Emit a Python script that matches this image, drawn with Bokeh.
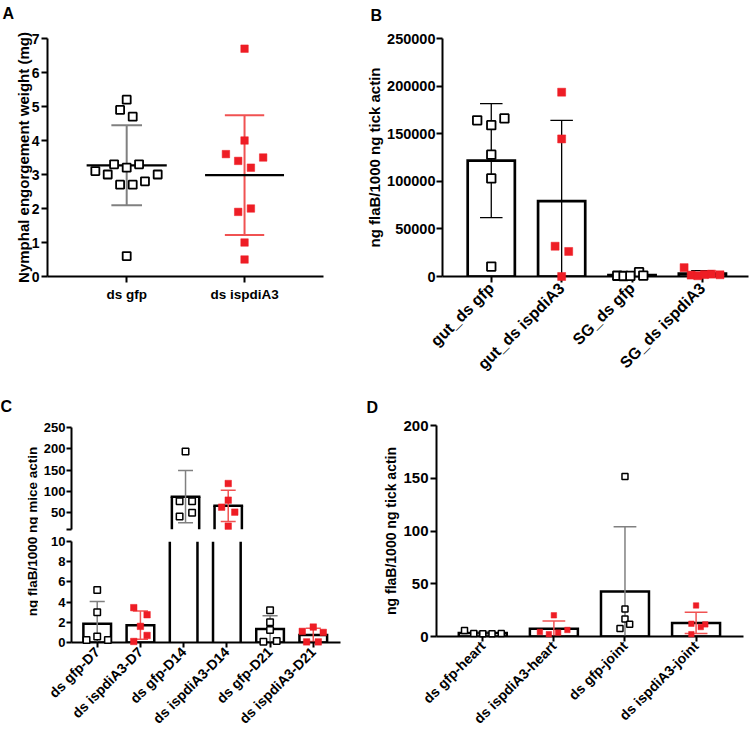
import numpy as np
from math import pi
from bokeh.plotting import figure
from bokeh.models import Range1d, FixedTicker, Label, BasicTickFormatter
from bokeh.layouts import row, column
from bokeh.embed import file_html
from bokeh.resources import INLINE
from bokeh.core.properties import value

FONT = "Liberation Sans"
RED = "#ee1d25"
RED_ERR = "#f05252"
GRAY_ERR = "#808080"

# ---------------- data ----------------
# Panel A : nymphal engorgement weight (mg)
a_groups = ["ds gfp", "ds ispdiA3"]
a_gfp = [5.2, 4.9, 4.7, 3.3, 3.2, 3.3, 3.1, 3.0, 2.7, 2.7, 2.8, 3.0, 0.6]
a_ispd = [6.7, 4.0, 3.6, 3.4, 3.5, 3.2, 2.0, 1.9, 1.0, 0.5]
a_yticks = [0, 1, 2, 3, 4, 5, 6, 7]

# Panel B : ng flaB / 1000 ng tick actin
b_groups = ["gut_ds gfp", "gut_ds ispdiA3", "SG_ds gfp", "SG_ds ispdiA3"]
b_gut_gfp = [164000, 159000, 166000, 128000, 103000, 10400]
b_gut_ispd = [193600, 144500, 31800, 26300, 0]
b_sg_gfp = [800, 500, 700, 4500, 1000]
b_sg_ispd = [9300, 1500, 800, 2000, 2500, 1800]
b_yticks = [0, 50000, 100000, 150000, 200000, 250000]

# Panel C : ng flaB / 1000 ng mice actin
c_groups = ["ds gfp-D7", "ds ispdiA3-D7", "ds gfp-D14",
            "ds ispdiA3-D14", "ds gfp-D21", "ds ispdiA3-D21"]
c_gfp_d7 = [5.2, 3.0, 0.6, 0.25, 0.25]
c_ispd_d7 = [3.45, 2.75, 1.6, 0.7, 0.1]
c_gfp_d14 = [193.5, 76.7, 76.7, 49.2, 40.6]
c_ispd_d14 = [118.2, 79.0, 62.5, 50.8, 17.9]
c_gfp_d21 = [3.2, 2.0, 1.25, 0.07, 0.16]
c_ispd_d21 = [1.53, 1.1, 1.0, 0.06, 0.06]
c_upper_ticks = [10, 50, 100, 150, 200, 250]
c_lower_ticks = [0, 2, 4, 6, 8, 10]

# Panel D : ng flaB / 1000 ng tick actin
d_groups = ["ds gfp-heart", "ds ispdiA3-heart", "ds gfp-joint", "ds ispdiA3-joint"]
d_gfp_heart = [5.8, 2.8, 2.6, 2.7, 2.8]
d_ispd_heart = [20.1, 6.2, 4.3, 3.7, 2.2]
d_gfp_joint = [151.7, 26.0, 16.7, 11.5, 7.7]
d_ispd_joint = [29.4, 12.1, 11.5, 9.0, 2.2]
d_yticks = [0, 50, 100, 150, 200]

# horizontal scatter offsets of the points (layout only)
a_gfp_jit = [0, -0.056, 0.051, -0.107, 0, 0.105, -0.266, -0.161, -0.056, 0.051, 0.155, 0.263, 0]
a_ispd_jit = [0, 0, -0.158, -0.054, 0.158, 0.054, 0.054, -0.054, 0, 0]
b_gut_gfp_jit = [-0.2, 0, 0.187, 0, 0, 0]
b_gut_ispd_jit = [0, 0, -0.093, 0.1, 0]
b_sg_gfp_jit = [-0.21, -0.12, -0.024, 0.10, 0.16]
b_sg_ispd_jit = [-0.26, -0.16, -0.066, 0.03, 0.13, 0.25]
c_gfp_d7_jit = [0, 0, 0, -0.247, 0.247]
c_ispd_d7_jit = [-0.154, 0.154, 0, 0.154, -0.154]
c_gfp_d14_jit = [0, -0.139, 0.154, 0.154, -0.139]
c_ispd_d14_jit = [0, 0, -0.154, 0.154, 0]
c_gfp_d21_jit = [0, 0, 0, -0.154, 0.154]
c_ispd_d21_jit = [0, -0.255, 0.231, -0.154, 0.116]
d_gfp_heart_jit = [-0.257, -0.127, 0, 0.13, 0.26]
d_ispd_heart_jit = [0, 0.19, -0.197, 0.06, -0.07]
d_gfp_joint_jit = [0, 0, 0, 0.066, -0.07]
d_ispd_joint_jit = [0, -0.066, 0.13, 0.066, -0.066]


# ---------------- helpers ----------------
def make_fig(width, height, xr, yr, left, right, top, bottom):
    p = figure(width=width, height=height, x_range=Range1d(*xr), y_range=Range1d(*yr),
               output_backend="svg", toolbar_location=None, tools="",
               min_border_left=left, min_border_right=right,
               min_border_top=top, min_border_bottom=bottom)
    p.outline_line_color = None
    p.grid.visible = False
    p.background_fill_color = "white"
    p.border_fill_color = "white"
    return p


def style_axis(ax, size, tick_out=6, standoff=2):
    ax.axis_line_width = 2
    ax.axis_line_color = "black"
    ax.major_tick_line_width = 2
    ax.major_tick_line_color = "black"
    ax.major_tick_out = tick_out
    ax.major_tick_in = 0
    ax.minor_tick_line_color = None
    ax.major_label_text_font = FONT
    ax.major_label_text_font_size = f"{size}px"
    ax.major_label_text_font_style = "bold"
    ax.major_label_text_color = "black"
    ax.major_label_standoff = standoff
    ax.axis_label_text_font = FONT
    ax.axis_label_text_font_style = "bold"
    ax.axis_label_text_color = "black"


def x_cats(ax, groups, rotate=False):
    ax.ticker = FixedTicker(ticks=list(range(1, len(groups) + 1)))
    ax.major_label_overrides = {i + 1: g for i, g in enumerate(groups)}
    if rotate:
        ax.major_label_orientation = pi / 4


def panel_letter(p, text, x, y):
    p.text(x=[x], y=[y], text=[text], text_font=value(FONT), text_font_size="16px",
           text_font_style="bold", text_color="black", text_align="left",
           text_baseline="top", level="overlay")


def draw_group(p, x, vals, jit, kind, size, bar_w=None, cap=0.16, err_w=1.5,
               err_col=None, bar_lw=2.5, mean_half=None, line_w=1.6,
               ylo=0.0, yhi=1e12):
    v = np.asarray(vals, dtype=float)
    m = v.mean()
    sd = v.std(ddof=1)
    if err_col is None:
        err_col = GRAY_ERR if kind == "open" else RED_ERR
    # bar (clipped by hand to the panel's value window)
    if bar_w and m > ylo:
        hx = bar_w / 2
        if ylo <= 0 and m <= yhi:
            p.vbar(x=[x], top=[m], bottom=0, width=bar_w, fill_color="white",
                   line_color="black", line_width=bar_lw, line_join="miter")
        else:
            top = min(m, yhi)
            p.vbar(x=[x], top=[top], bottom=ylo, width=bar_w, fill_color="white",
                   line_color=None)
            p.segment(x0=[x - hx, x + hx], y0=[ylo, ylo], x1=[x - hx, x + hx],
                      y1=[top, top], line_color="black", line_width=bar_lw)
            if m <= yhi:
                p.segment(x0=[x - hx], y0=[m], x1=[x + hx], y1=[m], line_color="black",
                          line_width=bar_lw, line_cap="square")
    # error bar (mean +/- SD)
    lo = m - sd
    hi = m + sd
    if hi > ylo and lo < yhi:
        p.segment(x0=[x], y0=[max(lo, ylo, 0)], x1=[x], y1=[min(hi, yhi)],
                  line_color=err_col, line_width=err_w)
    cy = [y for y in (hi, lo) if y > 0 and ylo <= y <= yhi]
    if cy:
        p.segment(x0=[x - cap] * len(cy), y0=cy, x1=[x + cap] * len(cy), y1=cy,
                  line_color=err_col, line_width=err_w)
    if mean_half:
        p.segment(x0=[x - mean_half], y0=[m], x1=[x + mean_half], y1=[m],
                  line_color="black", line_width=2.2)
    xs = x + np.asarray(jit, dtype=float)
    keep = (v >= ylo) & (v <= yhi)
    if not keep.any():
        return
    if kind == "open":
        p.scatter(x=xs[keep], y=v[keep], marker="square", size=size, fill_color="white",
                  line_color="black", line_width=line_w, level="overlay")
    else:
        p.scatter(x=xs[keep], y=v[keep], marker="square", size=size, fill_color=RED,
                  line_color=RED, line_width=0.5, level="overlay")


# ---------------- Panel A ----------------
pA = make_fig(363, 385, (0.328, 2.67), (0, 7), 47, 40, 38, 104)
style_axis(pA.xaxis[0], 13.5, tick_out=6, standoff=4)
style_axis(pA.yaxis[0], 14, tick_out=6, standoff=2)
x_cats(pA.xaxis[0], a_groups)
pA.yaxis[0].ticker = FixedTicker(ticks=a_yticks)
pA.yaxis[0].bounds = (0, 7)
pA.yaxis[0].axis_label = "Nymphal engorgement weight (mg)"
pA.yaxis[0].axis_label_text_font_size = "15px"
pA.yaxis[0].axis_label_standoff = -3
draw_group(pA, 1, a_gfp, a_gfp_jit, "open", 8, cap=0.13, err_w=2, mean_half=0.34, line_w=1.8)
draw_group(pA, 2, a_ispd, a_ispd_jit, "red", 7.5, cap=0.167, err_w=2, mean_half=0.335)
panel_letter(pA, "A", -0.054, 8.0)

# ---------------- Panel B ----------------
pB = make_fig(387, 385, (0.307, 4.655), (0, 250000), 75, 2, 35, 109)
style_axis(pB.xaxis[0], 16, tick_out=6, standoff=3)
style_axis(pB.yaxis[0], 14.5, tick_out=6, standoff=1)
x_cats(pB.xaxis[0], b_groups, rotate=True)
pB.yaxis[0].ticker = FixedTicker(ticks=b_yticks)
pB.yaxis[0].formatter = BasicTickFormatter(use_scientific=False)
pB.yaxis[0].axis_label = "ng flaB/1000 ng tick actin"
pB.yaxis[0].axis_label_text_font_size = "15px"
pB.yaxis[0].axis_label_standoff = 1
for i, (vals, jit, kind) in enumerate([(b_gut_gfp, b_gut_gfp_jit, "open"),
                                       (b_gut_ispd, b_gut_ispd_jit, "red"),
                                       (b_sg_gfp, b_sg_gfp_jit, "open"),
                                       (b_sg_ispd, b_sg_ispd_jit, "red")]):
    draw_group(pB, i + 1, vals, jit, kind, 8.5 if kind == "open" else 8, bar_w=0.67,
               cap=0.16, err_w=1.3, err_col="black", bar_lw=2.7, line_w=1.8,
               ylo=-1e12)
panel_letter(pB, "B", -0.717, 283000)

# ---------------- Panel C ----------------
c_sets = [(c_gfp_d7, c_gfp_d7_jit, "open"), (c_ispd_d7, c_ispd_d7_jit, "red"),
          (c_gfp_d14, c_gfp_d14_jit, "open"), (c_ispd_d14, c_ispd_d14_jit, "red"),
          (c_gfp_d21, c_gfp_d21_jit, "open"), (c_ispd_d21, c_ispd_d21_jit, "red")]

pCt = figure(width=38, height=350, x_range=Range1d(0, 38), y_range=Range1d(0, 350),
             output_backend="svg", toolbar_location=None, tools="",
             x_axis_type=None, y_axis_type=None, min_border=0)
pCt.outline_line_color = None
pCt.grid.visible = False
pCt.add_layout(Label(x=31.5, y=204, text="ng flaB/1000 ng mice actin", angle=pi / 2,
                     text_font=FONT, text_font_size="13.5px", text_font_style="bold",
                     text_color="black", text_align="center", text_baseline="middle"))
pCt.add_layout(Label(x=0, y=338, text="C", text_font=FONT, text_font_size="16px",
                     text_font_style="bold", text_color="black",
                     text_align="left", text_baseline="top"))

pCu = make_fig(325, 149, (0.329, 6.63), (10, 250), 30, 23, 42, 5)
pCu.xaxis.visible = False
style_axis(pCu.yaxis[0], 13, tick_out=5, standoff=1)
pCu.yaxis[0].ticker = FixedTicker(ticks=c_upper_ticks)
pCu.yaxis[0].major_label_overrides = {10: ""}

pCl = make_fig(325, 201, (0.405, 6.63), (0, 10), 33, 23, 7, 91)
style_axis(pCl.xaxis[0], 14, tick_out=5, standoff=2)
style_axis(pCl.yaxis[0], 13, tick_out=5, standoff=1)
x_cats(pCl.xaxis[0], c_groups, rotate=True)
pCl.yaxis[0].ticker = FixedTicker(ticks=c_lower_ticks)

for i, (vals, jit, kind) in enumerate(c_sets):
    draw_group(pCu, i + 1, vals, jit, kind, 6.5, bar_w=0.64, cap=0.175,
               err_w=1.5, bar_lw=2.5, line_w=1.5, ylo=10, yhi=250)
    draw_group(pCl, i + 1, vals, jit, kind, 6.5, bar_w=0.64, cap=0.175,
               err_w=1.5, bar_lw=2.5, line_w=1.5, ylo=0, yhi=10)

# ---------------- Panel D ----------------
pD = make_fig(387, 350, (0.349, 4.667), (0, 200), 73, 7, 40, 97)
style_axis(pD.xaxis[0], 14, tick_out=5, standoff=2)
style_axis(pD.yaxis[0], 15, tick_out=6, standoff=2)
x_cats(pD.xaxis[0], d_groups, rotate=True)
pD.yaxis[0].ticker = FixedTicker(ticks=d_yticks)
pD.yaxis[0].axis_label = "ng flaB/1000 ng tick actin"
pD.yaxis[0].axis_label_text_font_size = "14px"
pD.yaxis[0].axis_label_standoff = 1
for i, (vals, jit, kind) in enumerate([(d_gfp_heart, d_gfp_heart_jit, "open"),
                                       (d_ispd_heart, d_ispd_heart_jit, "red"),
                                       (d_gfp_joint, d_gfp_joint_jit, "open"),
                                       (d_ispd_joint, d_ispd_joint_jit, "red")]):
    draw_group(pD, i + 1, vals, jit, kind, 6 if kind == "open" else 5.5, bar_w=0.675,
               cap=0.16, err_w=1.5, bar_lw=2.5, line_w=1.5, ylo=-1e12)
panel_letter(pD, "D", -0.636, 225.4)

# ---------------- layout ----------------
layout = column(row(pA, pB), row(row(pCt, column(pCu, pCl)), pD))
open("out.html", "w").write(file_html(layout, INLINE))
